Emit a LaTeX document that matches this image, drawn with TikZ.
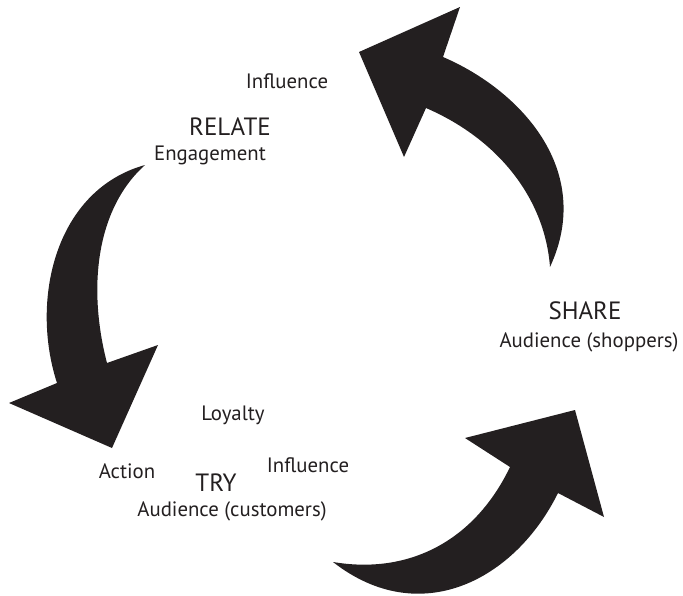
\documentclass[tikz,border=0pt]{standalone}
\usepackage{fontspec}
\setmainfont{PT Sans}
\definecolor{ink}{HTML}{231F20}
\begin{document}
\begin{tikzpicture}[x=1pt,y=-1pt,
  bigarrow/.style={fill=ink,draw=none},
  small/.style={anchor=base,inner sep=0pt,text=ink,font=\fontsize{20.8}{21}\selectfont},
  stage/.style={anchor=base,inner sep=0pt,text=ink,font=\fontsize{25}{25}\selectfont}]
\useasboundingbox (0,0) rectangle (683,595);

% upper right arrow, pointing up-left
\fill[bigarrow] (359,52) -- (460,7) -- (443,57)
  .. controls (520,90) and (595,170) .. (550,267)
  .. controls (545,200) and (500,140) .. (426,108)
  -- (404,157) -- cycle;

% left arrow, pointing down
\fill[bigarrow] (145,165)
  .. controls (55,190) and (30,300) .. (57,383)
  -- (9,403) -- (112,448) -- (158,345) -- (107,363)
  .. controls (88,290) and (95,210) .. (145,165) -- cycle;

% bottom arrow, pointing up-right
\fill[bigarrow] (333,562)
  .. controls (410,575) and (475,540) .. (510,467)
  -- (465,438) -- (575,410) -- (604,517) -- (558,493)
  .. controls (515,580) and (420,630) .. (333,562) -- cycle;

% labels
\node[small] (infl1) at (287,88) {Influence};
\node[stage] (relate) at (230,135) {RELATE};
\node[small] (engage) at (210,160) {Engagement};
\node[stage] (share) at (585,319) {SHARE};
\node[small] (shoppers) at (589,347) {Audience (shoppers)};
\node[small] (loyalty) at (233,420) {Loyalty};
\node[small] (action) at (127,478) {Action};
\node[stage] (try) at (216,491) {TRY};
\node[small] (infl2) at (308,472) {Influence};
\node[small] (customers) at (232,516) {Audience (customers)};
\end{tikzpicture}
\end{document}
